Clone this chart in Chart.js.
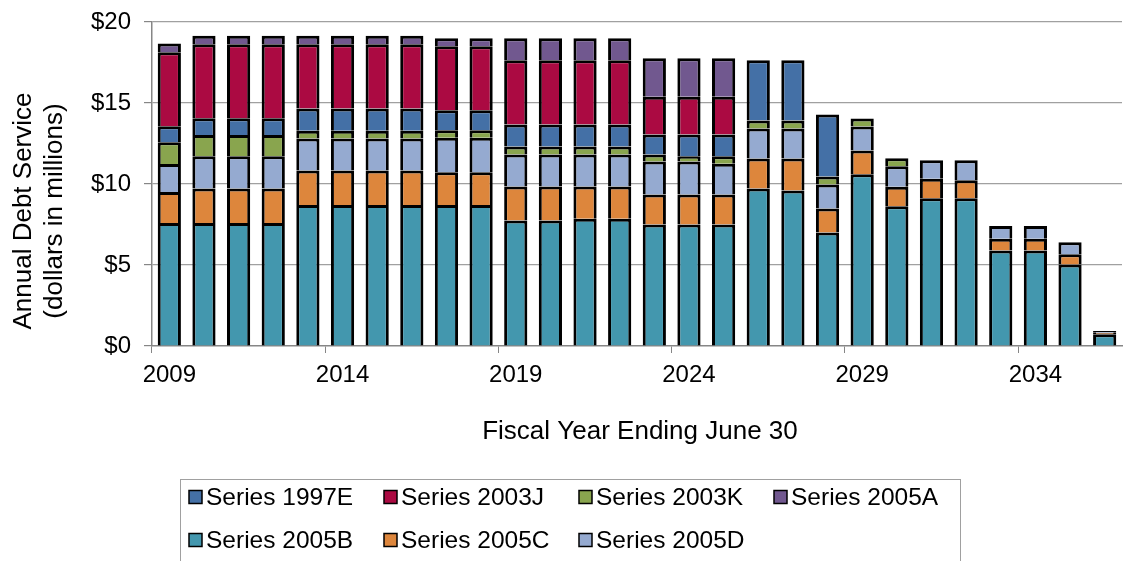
<!DOCTYPE html>
<html><head><meta charset="utf-8">
<script src="https://cdn.jsdelivr.net/npm/chart.js@4/dist/chart.umd.min.js"></script>
<style>html,body{margin:0;padding:0;background:#fff;overflow:hidden}</style>
</head><body>
<canvas id="c" width="1124" height="561"></canvas>
<script>
const years = ['2009','2010','2011','2012','2013','2014','2015','2016','2017','2018','2019','2020','2021','2022','2023','2024','2025','2026','2027','2028','2029','2030','2031','2032','2033','2034','2035','2036'];
const tickLabels = ['2009','2014','2019','2024','2029','2034'];
const yTicks = [0,5,10,15,20];

const s2005B = [7.6,7.6,7.6,7.6,8.71,8.71,8.71,8.71,8.71,8.71,7.75,7.75,7.85,7.85,7.5,7.5,7.5,9.72,9.6,7.0,10.6,8.63,9.12,9.12,5.9,5.9,5.03,0.72];
const s2005C = [1.9,2.12,2.12,2.12,2.12,2.12,2.12,2.12,2.02,2.02,2.1,2.1,2.0,2.0,1.85,1.85,1.85,1.85,1.97,1.49,1.47,1.2,1.2,1.11,0.72,0.72,0.64,0.1];
const s2005D = [1.73,2.0,2.0,2.0,1.98,1.98,1.98,1.98,2.12,2.12,1.97,1.97,1.97,1.97,2.04,2.04,1.9,1.86,1.86,1.48,1.48,1.27,1.15,1.24,0.78,0.78,0.74,0.1];
const s2003K = [1.34,1.31,1.31,1.31,0.47,0.47,0.47,0.47,0.47,0.47,0.49,0.49,0.49,0.49,0.43,0.33,0.47,0.49,0.49,0.49,0.49,0.49,null,null,null,null,null,null];
const s1997E = [1.0,1.03,1.03,1.03,1.38,1.38,1.38,1.38,1.24,1.24,1.36,1.36,1.36,1.36,1.24,1.34,1.34,3.72,3.72,3.83,null,null,null,null,null,null,null,null];
const s2003J = [4.57,4.57,4.57,4.57,3.97,3.97,3.97,3.97,3.95,3.95,3.97,3.97,3.97,3.97,2.32,2.32,2.32,null,null,null,null,null,null,null,null,null,null,null];
const s2005A = [0.53,0.52,0.52,0.52,0.52,0.52,0.52,0.52,0.49,0.49,1.36,1.36,1.36,1.36,2.39,2.39,2.39,null,null,null,null,null,null,null,null,null,null,null];

const legendOrder = ['Series 1997E','Series 2003J','Series 2003K','Series 2005A','Series 2005B','Series 2005C','Series 2005D'];
const xTitle = 'Fiscal Year Ending June 30';
const yTitle = ['Annual Debt Service','(dollars in millions)'];

const FONT = '"Liberation Sans", Arial, sans-serif';
const GRID = '#a0a0a0';
const AXIS = '#868686';

function ds(label, data, color){
  return {label, data, backgroundColor: color, borderColor:'#000', borderWidth:3,
          barPercentage:0.67, categoryPercentage:1.0};
}

const overlay = {
  id:'overlay',
  afterDraw(chart){
    const ctx = chart.ctx, ca = chart.chartArea;
    ctx.save();
    ctx.fillStyle = '#000';
    ctx.font = '26px ' + FONT;
    ctx.textAlign = 'center';
    ctx.textBaseline = 'middle';
    ctx.fillText(xTitle, (ca.left+ca.right)/2 + 3, 432);
    ctx.save();
    ctx.translate(24, 211); ctx.rotate(-Math.PI/2);
    ctx.fillText(yTitle[0], 0, 0);
    ctx.restore();
    ctx.save();
    ctx.translate(55, 211); ctx.rotate(-Math.PI/2);
    ctx.fillText(yTitle[1], 0, 0);
    ctx.restore();
    // legend
    ctx.strokeStyle = '#a0a0a0'; ctx.lineWidth = 1;
    ctx.strokeRect(180.5, 479.5, 780, 100);
    ctx.font = '24.5px ' + FONT;
    ctx.textAlign = 'left';
    legendOrder.forEach((name,i)=>{
      const d = chart.data.datasets.find(x=>x.label===name);
      const col = i%4, row = Math.floor(i/4);
      const x = 189 + col*195, y = row ? 540 : 497;
      ctx.fillStyle = d.backgroundColor;
      ctx.fillRect(x, y-6.5, 13, 13);
      ctx.strokeStyle = '#000'; ctx.lineWidth = 1.5;
      ctx.strokeRect(x, y-6.5, 13, 13);
      ctx.fillStyle = '#000';
      ctx.fillText(name, x+17, y+1);
    });
    ctx.restore();
  }
};

new Chart(document.getElementById('c'), {
  type:'bar',
  data:{
    labels: years,
    datasets:[
      ds('Series 2005B', s2005B, '#4397AE'),
      ds('Series 2005C', s2005C, '#DD863C'),
      ds('Series 2005D', s2005D, '#95AAD0'),
      ds('Series 2003K', s2003K, '#89A54E'),
      ds('Series 1997E', s1997E, '#4470A6'),
      ds('Series 2003J', s2003J, '#AB0A42'),
      ds('Series 2005A', s2005A, '#71588F')
    ]
  },
  options:{
    responsive:false,
    animation:false,
    devicePixelRatio:1,
    layout:{padding:{top:22,right:2,bottom:0,left:0}},
    plugins:{legend:{display:false},tooltip:{enabled:false}},
    scales:{
      x:{
        stacked:true,
        afterFit(s){ s.height = 215; s.paddingLeft = 0; s.paddingRight = 0; },
        grid:{
          offset:true, drawOnChartArea:false, drawTicks:true, tickLength:7,
          tickColor:(c)=> (c.index!==undefined && c.index%5===0) ? AXIS : 'rgba(0,0,0,0)',
          color:'rgba(0,0,0,0)'
        },
        border:{display:true,color:AXIS,width:1.5},
        ticks:{
          autoSkip:false, maxRotation:0, minRotation:0, padding:8,
          color:'#000', font:{family:FONT,size:24},
          callback:function(v,i){ const l = years[i]; return tickLabels.includes(l) ? l : ''; }
        }
      },
      y:{
        stacked:true, min:0, max:20,
        afterFit(s){ s.width = 152; s.paddingTop = 0; s.paddingBottom = 0; },
        afterBuildTicks(s){ s.ticks = yTicks.map(v=>({value:v})); },
        grid:{
          color:(c)=> c.tick && c.tick.value===0 ? 'rgba(0,0,0,0)' : GRID,
          lineWidth:1.2, borderDash:[8,6],
          drawTicks:true, tickLength:8, tickColor:AXIS, tickBorderDash:[], tickWidth:1.2
        },
        border:{display:true,color:AXIS,width:1.5},
        ticks:{
          padding:13, color:'#000', font:{family:FONT,size:24},
          callback:(v)=>'$'+v
        }
      }
    }
  },
  plugins:[overlay]
});
</script>
</body></html>
